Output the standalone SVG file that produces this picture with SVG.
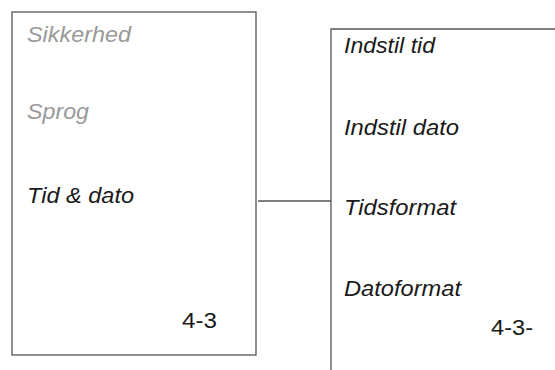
<svg xmlns="http://www.w3.org/2000/svg" width="555" height="370" viewBox="0 0 555 370">
<style>
.box{fill:none;stroke:#555;stroke-width:1.3}
.t{font-family:"Liberation Sans",Arial,sans-serif;font-size:22px;font-style:italic;fill:#1a1a1a}
.g{fill:#999}
.n{font-family:"Liberation Sans",Arial,sans-serif;font-size:22px;fill:#1a1a1a}
.c{fill:none;stroke:#555;stroke-width:1.3}
</style>
<rect width="555" height="370" fill="#fff"/>
<g id="menu-left">
<rect class="box" x="12" y="12" width="244" height="343"/>
<text class="t g" x="27" y="42" textLength="104" lengthAdjust="spacingAndGlyphs">Sikkerhed</text>
<text class="t g" x="27" y="119" textLength="62" lengthAdjust="spacingAndGlyphs">Sprog</text>
<text class="t" x="27" y="203" textLength="107" lengthAdjust="spacingAndGlyphs">Tid &amp; dato</text>
<text class="n" x="182" y="328" textLength="35" lengthAdjust="spacingAndGlyphs">4-3</text>
</g>
<g id="menu-right">
<path class="box" d="M331,370 V29 H555"/>
<text class="t" x="344" y="53" textLength="91" lengthAdjust="spacingAndGlyphs">Indstil tid</text>
<text class="t" x="344" y="135" textLength="115" lengthAdjust="spacingAndGlyphs">Indstil dato</text>
<text class="t" x="344" y="215" textLength="112" lengthAdjust="spacingAndGlyphs">Tidsformat</text>
<text class="t" x="344" y="296" textLength="117" lengthAdjust="spacingAndGlyphs">Datoformat</text>
<text class="n" x="491" y="335" textLength="42" lengthAdjust="spacingAndGlyphs">4-3-</text>
</g>
<g id="connectors">
<line class="c" x1="258" y1="201" x2="331" y2="201"/>
</g>
</svg>
